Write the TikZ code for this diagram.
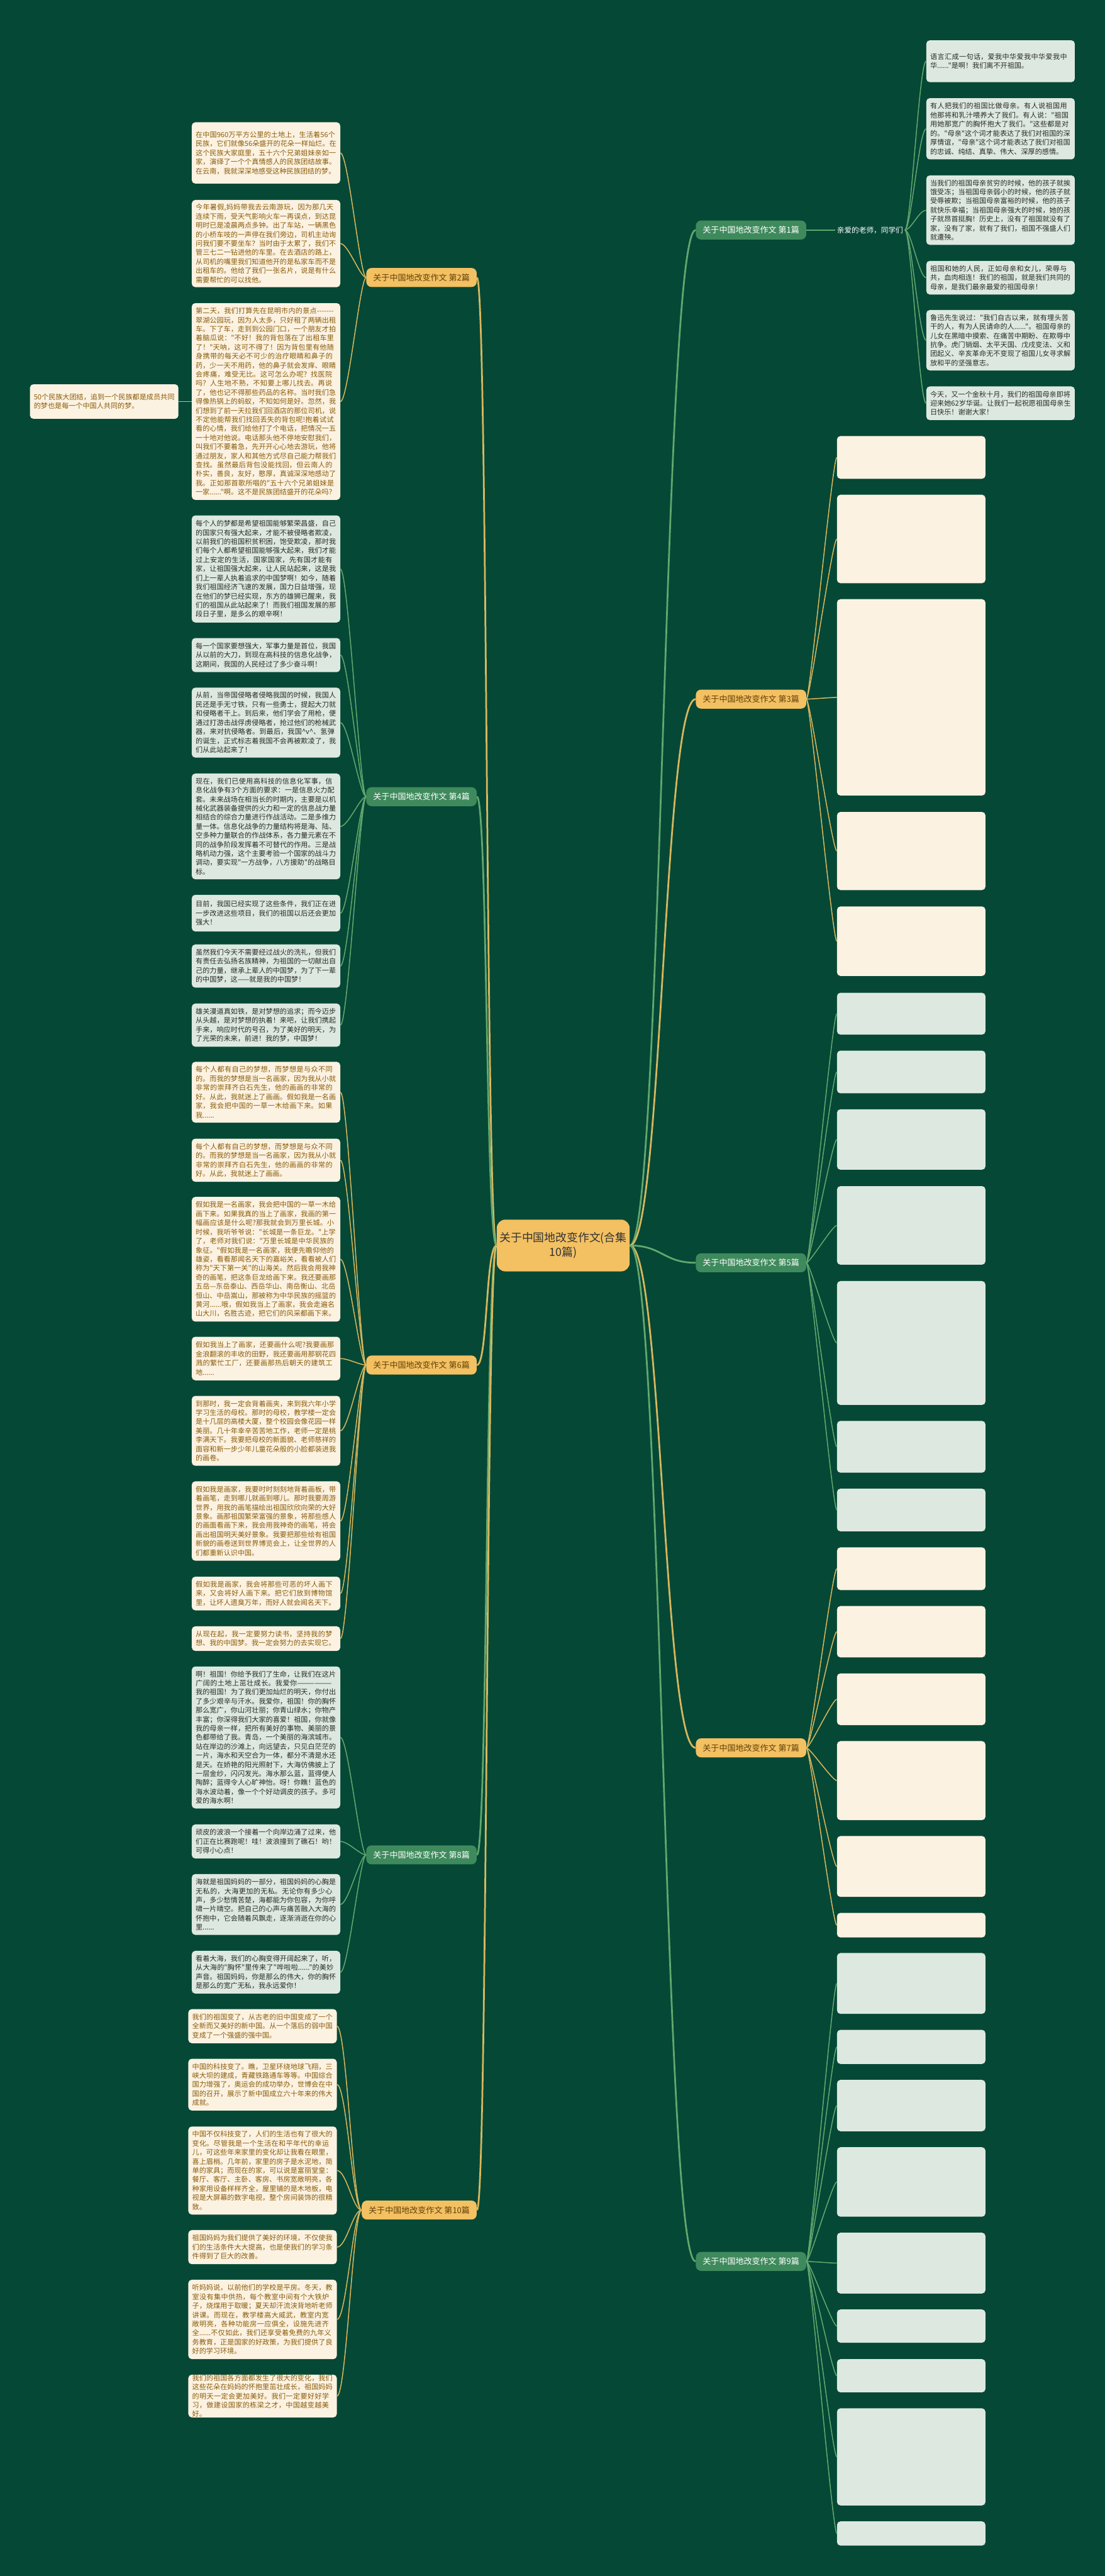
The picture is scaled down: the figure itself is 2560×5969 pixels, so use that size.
\documentclass[tikz,border=0pt]{standalone}
\usepackage{fontspec}
\newfontfamily\cjk{Noto Sans CJK SC}
\XeTeXlinebreaklocale "zh"
\XeTeXlinebreakskip=0pt plus 1pt
\definecolor{bg}{HTML}{064836}
\definecolor{creamfill}{HTML}{FCF2E2}
\definecolor{creamtext}{HTML}{8A5C0A}
\definecolor{greenfill}{HTML}{DDE9E0}
\definecolor{greentext}{HTML}{2A2A2A}
\definecolor{gold}{HTML}{D8B75E}
\definecolor{lgreen}{HTML}{62A86E}
\definecolor{centerfill}{HTML}{F3C062}
\definecolor{glabel}{HTML}{3E8A5C}
\definecolor{clabel}{HTML}{F3C062}
\tikzset{
  leafc/.style={fill=creamfill,text=creamtext,rounded corners=4pt,inner xsep=4.5pt,inner ysep=0pt,
    text width=163pt,align=left,anchor=north west,font=\cjk\fontsize{8.1pt}{10.5pt}\selectfont},
  leafg/.style={leafc,fill=greenfill,text=greentext},
  glab/.style={fill=glabel,text=white,rounded corners=6pt,minimum height=22pt,inner xsep=8pt,
    font=\cjk\fontsize{9.5pt}{11pt}\selectfont},
  clab/.style={glab,fill=clabel,text=creamtext!70!black},
  gline/.style={draw=lgreen,line width=1.1pt},
  cline/.style={draw=gold,line width=1.1pt},
  gtrunk/.style={draw=lgreen,line width=2pt},
  ctrunk/.style={draw=gold,line width=2pt},
}
\newcommand\leaf[6]{\node[#2,minimum height={(#5-#4)*0.5pt}] (#1) at (#3,#4) {#6};}
\begin{document}
\begin{tikzpicture}[x=0.5pt,y=-0.5pt]
\fill[bg] (0,0) rectangle (2560,5969);
\useasboundingbox (0,0) rectangle (2560,5969);

% center
\node[fill=centerfill,text=black!80,rounded corners=10pt,align=center,minimum width=150pt,minimum height=60pt,
  font=\cjk\fontsize{13pt}{17pt}\selectfont] (c) at (1305,2886) {关于中国地改变作文(合集\\10篇)};

% branch labels
\node[glab,anchor=west] (b1) at (1612,533) {关于中国地改变作文 第1篇};
\node[clab,anchor=east] (b2) at (1105,643) {关于中国地改变作文 第2篇};
\node[clab,anchor=west] (b3) at (1612,1620) {关于中国地改变作文 第3篇};
\node[glab,anchor=east] (b4) at (1105,1846) {关于中国地改变作文 第4篇};
\node[glab,anchor=west] (b5) at (1612,2926) {关于中国地改变作文 第5篇};
\node[clab,anchor=east] (b6) at (1105,3163) {关于中国地改变作文 第6篇};
\node[clab,anchor=west] (b7) at (1612,4050) {关于中国地改变作文 第7篇};
\node[glab,anchor=east] (b8) at (1105,4298) {关于中国地改变作文 第8篇};
\node[glab,anchor=west] (b9) at (1612,5240) {关于中国地改变作文 第9篇};
\node[clab,anchor=east] (b10) at (1105,5121) {关于中国地改变作文 第10篇};

\node[text=white,font=\cjk\fontsize{8.5pt}{10pt}\selectfont,anchor=west,inner sep=2pt] (b1c) at (1935,533) {亲爱的老师，同学们};

% center connectors
\foreach \b/\s in {b1/gtrunk,b3/ctrunk,b5/gtrunk,b7/ctrunk,b9/gtrunk}{
  \draw[\s] (c.east) .. controls +(75,0) and +(-75,0) .. (\b.west);}
\foreach \b/\s in {b2/ctrunk,b4/gtrunk,b6/ctrunk,b8/gtrunk,b10/ctrunk}{
  \draw[\s] (c.west) .. controls +(-25,0) and +(25,0) .. (\b.east);}
\draw[gline] (b1.east) -- (b1c.west);

% ---------- branch 1 ----------
\leaf{a1}{leafg}{2146}{93}{190}{语言汇成一句话，爱我中华爱我中华爱我中华......"是啊！我们离不开祖国。}
\leaf{a2}{leafg}{2146}{227}{369}{有人把我们的祖国比做母亲。有人说祖国用他那将和乳汁喂养大了我们。有人说："祖国用她那宽广的胸怀抱大了我们。"这些都是对的。"母亲"这个词才能表达了我们对祖国的深厚情谊，"母亲"这个词才能表达了我们对祖国的忠诚、纯结、真挚、伟大、深厚的感情。}
\leaf{a3}{leafg}{2146}{406}{567}{当我们的祖国母亲贫穷的时候，他的孩子就挨饿受冻；当祖国母亲弱小的时候，他的孩子就受辱被欺；当祖国母亲富裕的时候，他的孩子就快乐幸福；当祖国母亲强大的时候，她的孩子就昂首挺胸！历史上，没有了祖国就没有了家，没有了家，就有了我们，祖国不强盛人们就遭殃。}
\leaf{a4}{leafg}{2146}{604}{682}{祖国和她的人民，正如母亲和女儿，荣辱与共，血肉相连！我们的祖国，就是我们共同的母亲，是我们最亲最爱的祖国母亲！}
\leaf{a5}{leafg}{2146}{718}{858}{鲁迅先生说过："我们自古以来，就有埋头苦干的人，有为人民请命的人......"。祖国母亲的儿女在黑暗中摸索、在痛苦中期盼、在欺辱中抗争。虎门销烟、太平天国、戊戌变法、义和团起义、辛亥革命无不变现了祖国儿女寻求解放和平的坚强意志。}
\leaf{a6}{leafg}{2146}{895}{973}{今天，又一个金秋十月，我们的祖国母亲即将迎来她62岁华诞。让我们一起祝愿祖国母亲生日快乐！谢谢大家！}
\foreach \n in {a1,a2,a3,a4,a5,a6}{\draw[gline] (b1c.east) .. controls +(14,0) and +(-16,0) .. (\n.west);}

% ---------- branch 2 ----------
\leaf{l1}{leafc}{444}{283}{425}{在中国960万平方公里的土地上，生活着56个民族，它们就像56朵盛开的花朵一样灿烂。在这个民族大家庭里，五十六个兄弟姐妹亲如一家，演绎了一个个真情感人的民族团结故事。在云南，我就深深地感受这种民族团结的梦。}
\leaf{l2}{leafc}{444}{463}{665}{今年暑假,妈妈带我去云南游玩，因为那几天连续下雨，受天气影响火车一再误点，到达昆明时已是凌晨两点多钟。出了车站，一辆黑色的小桥车吱的一声停在我们旁边，司机主动询问我们要不要坐车？当时由于太累了，我们不管三七二一钻进他的车里。在去酒店的路上，从司机的嘴里我们知道他开的是私家车而不是出租车的。他给了我们一张名片，说是有什么需要帮忙的可以找他。}
\leaf{l3}{leafc}{444}{702}{1158}{第二天，我们打算先在昆明市内的景点-{}-{}-{}-{}-{}-{}-翠湖公园玩，因为人太多，只好租了两辆出租车。下了车，走到到公园门口，一个朋友才拍着脑瓜说："不好！我的背包落在了出租车里了！"天呐，这可不得了！因为背包里有他随身携带的每天必不可少的治疗眼睛和鼻子的药，少一天不用药，他的鼻子就会发痒、眼睛会疼痛，难受无比。这可怎么办呢？找医院吗？人生地不熟，不知要上哪儿找去。再说了，他也记不得那些药品的名称。当时我们急得像热锅上的蚂蚁，不知如何是好。忽然，我们想到了前一天拉我们回酒店的那位司机，说不定他能帮我们找回丢失的背包呢!抱着试试看的心情，我们给他打了个电话，把情况一五一十地对他说。电话那头他不停地安慰我们，叫我们不要着急，先开开心心地去游玩，他将通过朋友，家人和其他方式尽自己能力帮我们查找。虽然最后背包没能找回，但云南人的朴实，善良，友好，憨厚，真诚深深地感动了我。正如那首歌所唱的"五十六个兄弟姐妹是一家......"啊。这不是民族团结盛开的花朵吗？}
\leaf{l3c}{leafc}{69}{890}{970}{50个民族大团结，追到一个民族都是成员共同的梦也是每一个中国人共同的梦。}
\foreach \n in {l1,l2,l3}{\draw[cline] (b2.west) .. controls +(-14,0) and +(18,0) .. (\n.east);}
\draw[cline] (l3.west) .. controls +(-8,0) and +(8,0) .. (l3c.east);

% ---------- branch 4 ----------
\leaf{l4}{leafg}{444}{1194}{1442}{每个人的梦都是希望祖国能够繁荣昌盛，自己的国家只有强大起来，才能不被侵略者欺凌，以前我们的祖国积贫积困，饱受欺凌，那时我们每个人都希望祖国能够强大起来，我们才能过上安定的生活，国家国家，先有国才能有家，让祖国强大起来，让人民站起来，这是我们上一辈人执着追求的中国梦啊！如今，随着我们祖国经济飞速的发展，国力日益增强，现在他们的梦已经实现，东方的雄狮已醒来，我们的祖国从此站起来了！而我们祖国发展的那段日子里，是多么的艰辛啊！}
\leaf{l5}{leafg}{444}{1478}{1557}{每一个国家要想强大，军事力量是首位，我国从以前的大刀，到现在高科技的信息化战争，这期间，我国的人民经过了多少奋斗啊！}
\leaf{l6}{leafg}{444}{1593}{1755}{从前，当帝国侵略者侵略我国的时候，我国人民还是手无寸铁，只有一些勇士，提起大刀就和侵略者干上。到后来，他们学会了用枪，便通过打游击战俘虏侵略者，抢过他们的枪械武器，来对抗侵略者。到最后，我国\textasciicircum v\textasciicircum 、氢弹的诞生，正式标志着我国不会再被欺凌了，我们从此站起来了！}
\leaf{l7}{leafg}{444}{1792}{2037}{现在，我们已使用高科技的信息化军事，信息化战争有3个方面的要求：一是信息火力配套。未来战场在相当长的时期内，主要是以机械化武器装备提供的火力和一定的信息战力量相结合的综合力量进行作战活动。二是多维力量一体。信息化战争的力量结构将是海、陆、空多种力量联合的作战体系，各力量元素在不同的战争阶段发挥着不可替代的作用。三是战略机动力强，这个主要考验一个国家的战斗力调动，要实现"一方战争，八方援助"的战略目标。}
\leaf{l8}{leafg}{444}{2073}{2158}{目前，我国已经实现了这些条件，我们正在进一步改进这些项目，我们的祖国以后还会更加强大！}
\leaf{l9}{leafg}{444}{2188}{2288}{虽然我们今天不需要经过战火的洗礼，但我们有责任去弘扬名族精神，为祖国的一切献出自己的力量，继承上辈人的中国梦，为了下一辈的中国梦，这——就是我的中国梦！}
\leaf{l10}{leafg}{444}{2325}{2425}{雄关漫道真如铁，是对梦想的追求；而今迈步从头越，是对梦想的执着！来吧，让我们携起手来，响应时代的号召，为了美好的明天，为了光荣的未来，前进！我的梦，中国梦！}
\foreach \n in {l4,l5,l6,l7,l8,l9,l10}{\draw[gline] (b4.west) .. controls +(-14,0) and +(18,0) .. (\n.east);}

% ---------- branch 6 ----------
\leaf{l11}{leafc}{444}{2460}{2601}{每个人都有自己的梦想，而梦想是与众不同的。而我的梦想是当一名画家，因为我从小就非常的崇拜齐白石先生，他的画画的非常的好。从此，我就迷上了画画。假如我是一名画家，我会把中国的一草一木给画下来。如果我......}
\leaf{l12}{leafc}{444}{2638}{2738}{每个人都有自己的梦想，而梦想是与众不同的。而我的梦想是当一名画家，因为我从小就非常的崇拜齐白石先生，他的画画的非常的好。从此，我就迷上了画画。}
\leaf{l13}{leafc}{444}{2773}{3062}{假如我是一名画家，我会把中国的一草一木给画下来。如果我真的当上了画家，我画的第一幅画应该是什么呢?那我就会到万里长城。小时候，我听爷爷说："长城是一条巨龙。"上学了，老师对我们说："万里长城是中华民族的象征。"假如我是一名画家，我便先瞻仰他的雄姿，看看那闻名天下的嘉峪关，看看被人们称为"天下第一关"的山海关。然后我会用我神奇的画笔，把这条巨龙给画下来。我还要画那五岳—东岳泰山、西岳华山、南岳衡山、北岳恒山、中岳嵩山，那被称为中华民族的摇篮的黄河......哦，假如我当上了画家，我会走遍名山大川，名胜古迹，把它们的风采都画下来。}
\leaf{l14}{leafc}{444}{3097}{3198}{假如我当上了画家，还要画什么呢?我要画那金浪翻滚的丰收的田野，我还要画用那钢花四溅的繁忙工厂，还要画那热后朝天的建筑工地......}
\leaf{l15}{leafc}{444}{3234}{3396}{到那时，我一定会背着画夹，来到我六年小学学习生活的母校。那时的母校，教学楼一定会是十几层的高楼大厦，整个校园会像花园一样美丽。几十年幸辛苦苦地工作，老师一定是桃李满天下。我要把母校的新面貌、老师慈祥的面容和新一步少年儿童花朵般的小脸都装进我的画卷。}
\leaf{l16}{leafc}{444}{3432}{3616}{假如我是画家，我要时时刻刻地背着画板，带着画笔，走到哪儿就画到哪儿。那时我要周游世界，用我的画笔描绘出祖国欣欣向荣的大好景象。画那祖国繁荣富强的景象，将那些感人的画面看画下来，我会用我神奇的画笔，将会画出祖国明天美好景象。我要把那些绘有祖国新貌的画卷送到世界博览会上，让全世界的人们都重新认识中国。}
\leaf{l17}{leafc}{444}{3653}{3731}{假如我是画家，我会将那些可恶的坏人画下来，又会将好人画下来。把它们放到博物馆里，让坏人遗臭万年，而好人就会闻名天下。}
\leaf{l18}{leafc}{444}{3768}{3825}{从现在起，我一定要努力读书，坚持我的梦想、我的中国梦。我一定会努力的去实现它。}
\foreach \n in {l11,l12,l13,l14,l15,l16,l17,l18}{\draw[cline] (b6.west) .. controls +(-14,0) and +(18,0) .. (\n.east);}

% ---------- branch 8 ----------
\leaf{l19}{leafg}{444}{3861}{4190}{啊！祖国！你给予我们了生命，让我们在这片广阔的土地上茁壮成长。我爱你——————我的祖国！为了我们更加灿烂的明天，你付出了多少艰辛与汗水。我爱你，祖国！你的胸怀那么宽广，你山河壮丽；你青山绿水；你物产丰富；你深得我们大家的喜爱！祖国，你就像我的母亲一样，把所有美好的事物、美丽的景色都带给了我。青岛，一个美丽的海滨城市。站在岸边的沙滩上，向远望去，只见白茫茫的一片，海水和天空合为一体，都分不清是水还是天。在娇艳的阳光照射下，大海仿佛披上了一层金纱，闪闪发光。海水那么蓝，蓝得使人陶醉；蓝得令人心旷神怡。呀！你瞧！蓝色的海水波动着，像一个个好动调皮的孩子。多可爱的海水啊！}
\leaf{l20}{leafg}{444}{4227}{4306}{顽皮的波浪一个接着一个向岸边涌了过来，他们正在比赛跑呢！哇！波浪撞到了礁石！哟！可得小心点！}
\leaf{l21}{leafg}{444}{4342}{4483}{海就是祖国妈妈的一部分，祖国妈妈的心胸是无私的，大海更加的无私。无论你有多少心声，多少愁情苦楚，海都能为你包容，为你呼啸一片晴空。把自己的心声与痛苦融入大海的怀抱中，它会随着风飘走，逐渐消逝在你的心里......}
\leaf{l22}{leafg}{444}{4520}{4619}{看着大海，我们的心胸变得开阔起来了，听，从大海的"胸怀"里传来了"哗啦啦......"的美妙声音。祖国妈妈，你是那么的伟大，你的胸怀是那么的宽广无私，我永远爱你！}
\foreach \n in {l19,l20,l21,l22}{\draw[gline] (b8.west) .. controls +(-14,0) and +(18,0) .. (\n.east);}

% ---------- branch 10 ----------
\leaf{l23}{leafc}{436}{4655}{4734}{我们的祖国变了，从古老的旧中国变成了一个全新而又美好的新中国。从一个落后的弱中国变成了一个强盛的强中国。}
\leaf{l24}{leafc}{436}{4770}{4890}{中国的科技变了。瞧，卫星环绕地球飞翔，三峡大坝的建成，青藏铁路通车等等。中国综合国力增强了，奥运会的成功举办，世博会在中国的召开，展示了新中国成立六十年来的伟大成就。}
\leaf{l25}{leafc}{436}{4927}{5131}{中国不仅科技变了，人们的生活也有了很大的变化。尽管我是一个生活在和平年代的幸运儿，可这些年来家里的变化却让我看在眼里，喜上眉梢。几年前，家里的房子是水泥地，简单的家具；而现在的家，可以说是富丽堂皇：餐厅、客厅、主卧、客房、书房宽敞明亮，各种家用设备样样齐全，屋里铺的是木地板，电视是大屏幕的数字电视，整个房间装饰的很精致。}
\leaf{l26}{leafc}{436}{5167}{5246}{祖国妈妈为我们提供了美好的环境，不仅使我们的生活条件大大提高，也是使我们的学习条件得到了巨大的改善。}
\leaf{l27}{leafc}{436}{5282}{5466}{听妈妈说，以前他们的学校是平房。冬天，教室没有集中供热，每个教室中间有个大铁炉子，烧煤用于取暖；夏天却汗流浃背地听老师讲课。而现在，教学楼高大威武，教室内宽敞明亮，各种功能房一应俱全，设施先进齐全......不仅如此，我们还享受着免费的九年义务教育，正是国家的好政策，为我们提供了良好的学习环境。}
\leaf{l28}{leafc}{436}{5502}{5601}{我们的祖国各方面都发生了很大的变化，我们这些花朵在妈妈的怀抱里茁壮成长，祖国妈妈的明天一定会更加美好。我们一定要好好学习，做建设国家的栋梁之才，中国越变越美好。}
\foreach \n in {l23,l24,l25,l26,l27,l28}{\draw[cline] (b10.west) .. controls +(-20,0) and +(22,0) .. (\n.east);}

% ---------- branch 3 ----------
\leaf{r1}{leafc}{1939}{1010}{1109}{}
\leaf{r2}{leafc}{1939}{1146}{1351}{}
\leaf{r3}{leafc}{1939}{1388}{1843}{}
\leaf{r4}{leafc}{1939}{1881}{2062}{}
\leaf{r5}{leafc}{1939}{2100}{2261}{}
\foreach \n in {r1,r2,r3,r4,r5}{\draw[cline] (b3.east) .. controls +(8,0) and +(-10,0) .. (\n.west);}

% ---------- branch 5 ----------
\leaf{s1}{leafg}{1939}{2300}{2397}{}
\leaf{s2}{leafg}{1939}{2434}{2533}{}
\leaf{s3}{leafg}{1939}{2570}{2710}{}
\leaf{s4}{leafg}{1939}{2748}{2930}{}
\leaf{s5}{leafg}{1939}{2968}{3255}{}
\leaf{s6}{leafg}{1939}{3292}{3412}{}
\leaf{s7}{leafg}{1939}{3449}{3548}{}
\foreach \n in {s1,s2,s3,s4,s5,s6,s7}{\draw[gline] (b5.east) .. controls +(8,0) and +(-10,0) .. (\n.west);}

% ---------- branch 7 ----------
\leaf{t1}{leafc}{1939}{3585}{3684}{}
\leaf{t2}{leafc}{1939}{3721}{3840}{}
\leaf{t3}{leafc}{1939}{3877}{3997}{}
\leaf{t4}{leafc}{1939}{4034}{4217}{}
\leaf{t5}{leafc}{1939}{4254}{4395}{}
\leaf{t6}{leafc}{1939}{4432}{4489}{}
\foreach \n in {t1,t2,t3,t4,t5,t6}{\draw[cline] (b7.east) .. controls +(8,0) and +(-10,0) .. (\n.west);}

% ---------- branch 9 ----------
\leaf{u1}{leafg}{1939}{4525}{4666}{}
\leaf{u2}{leafg}{1939}{4703}{4782}{}
\leaf{u3}{leafg}{1939}{4819}{4938}{}
\leaf{u4}{leafg}{1939}{4975}{5136}{}
\leaf{u5}{leafg}{1939}{5173}{5314}{}
\leaf{u6}{leafg}{1939}{5351}{5428}{}
\leaf{u7}{leafg}{1939}{5466}{5543}{}
\leaf{u8}{leafg}{1939}{5580}{5805}{}
\leaf{u9}{leafg}{1939}{5842}{5898}{}
\foreach \n in {u1,u2,u3,u4,u5,u6,u7,u8,u9}{\draw[gline] (b9.east) .. controls +(8,0) and +(-10,0) .. (\n.west);}
\end{tikzpicture}
\end{document}
